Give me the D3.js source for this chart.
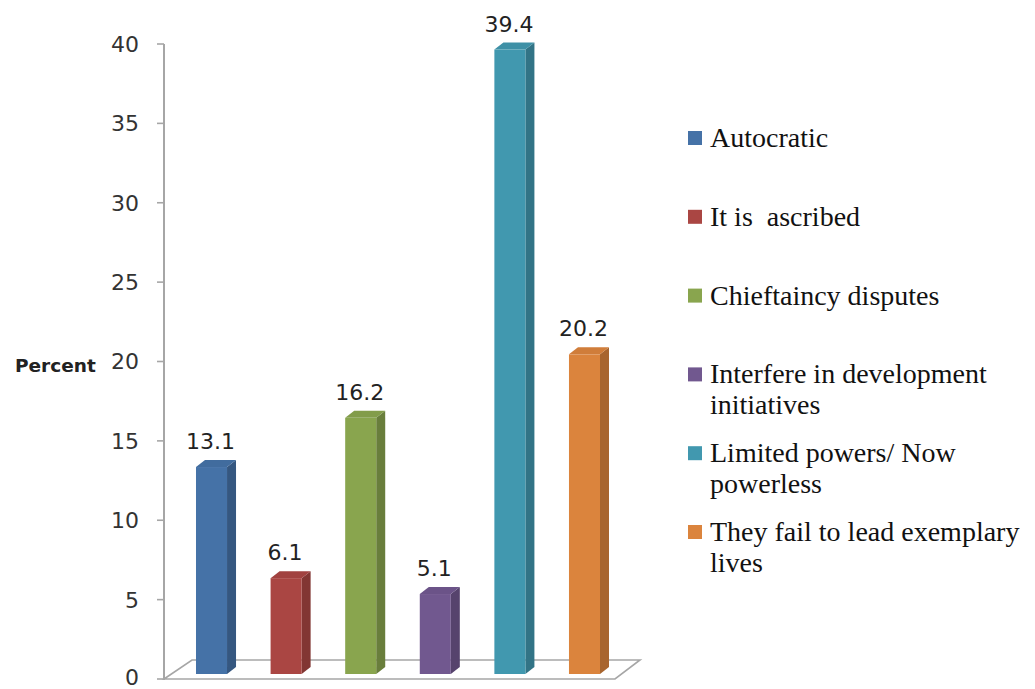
<!DOCTYPE html>
<html>
<head>
<meta charset="utf-8">
<script src="https://cdn.jsdelivr.net/npm/d3@7/dist/d3.min.js"></script>
<style>
  html, body { margin: 0; padding: 0; background: #fff; }
  svg { display: block; }
  .legend text { white-space: pre; }
</style>
</head>
<body>
<svg id="chart" width="1035" height="689"></svg>
<script>
// Reasons given, share of respondents (%)
const categories = [
  "Autocratic",
  "It is  ascribed",
  "Chieftaincy disputes",
  "Interfere in development initiatives",
  "Limited powers/ Now powerless",
  "They fail to lead exemplary lives"
];
const values = [13.1, 6.1, 16.2, 5.1, 39.4, 20.2];
const legendLines = [
  ["Autocratic"],
  ["It is  ascribed"],
  ["Chieftaincy disputes"],
  ["Interfere in development", "initiatives"],
  ["Limited powers/ Now", "powerless"],
  ["They fail to lead exemplary", "lives"]
];
const colors = ["#4572a7", "#aa4643", "#89a54e", "#71588f", "#4198af", "#db843d"];
const yTicks = [0, 5, 10, 15, 20, 25, 30, 35, 40];
const yTitle = "Percent";

const svg = d3.select("#chart");

const axisX = 164;
const y = d3.scaleLinear().domain([0, 40]).range([679, 44]);
const x = d3.scaleBand()
  .domain(categories)
  .range([158.7, 637.3])
  .paddingInner(0.584)
  .paddingOuter(0.5);

// 3D depth offsets
const dx = 9, dy = -7;
const floorDx = 28, floorDy = -19;
const floorRight = 615;
const barLift = 4;               // bars stand slightly behind the floor's front edge
const barBase = y(0) - 5;

const sansFont = "'DejaVu Sans', Verdana, sans-serif";
const serifFont = "'Liberation Serif', 'Times New Roman', serif";

// floor
const f0 = y(0);
svg.append("polygon")
  .attr("points", [
    [axisX, f0], [axisX + floorDx, f0 + floorDy],
    [floorRight + floorDx - 3, f0 + floorDy], [floorRight, f0]
  ].map(p => p.join(",")).join(" "))
  .attr("fill", "#fff")
  .attr("stroke", "#a6a6a6")
  .attr("stroke-width", 1.6);

// value axis
const axis = svg.append("g");
axis.append("line")
  .attr("x1", axisX).attr("x2", axisX)
  .attr("y1", y(40)).attr("y2", y(0) + 1)
  .attr("stroke", "#a6a6a6").attr("stroke-width", 2);
axis.selectAll("line.tick").data(yTicks).join("line")
  .attr("class", "tick")
  .attr("x1", axisX - 7).attr("x2", axisX)
  .attr("y1", d => y(d)).attr("y2", d => y(d))
  .attr("stroke", "#a6a6a6").attr("stroke-width", 1.6);
axis.selectAll("text").data(yTicks).join("text")
  .attr("x", 139)
  .attr("y", d => d === 0 ? y(d) - 2 : y(d))
  .attr("dy", "0.36em")
  .attr("text-anchor", "end")
  .attr("font-family", sansFont)
  .attr("font-size", 22)
  .attr("fill", "#333")
  .text(d => d);

svg.append("text")
  .attr("x", 15).attr("y", 372)
  .attr("font-family", sansFont)
  .attr("font-weight", "bold")
  .attr("font-size", 18.5)
  .attr("fill", "#222")
  .text(yTitle);

// bars
const bars = svg.selectAll("g.bar")
  .data(categories.map((c, i) => ({ c, v: values[i], col: colors[i] })))
  .join("g").attr("class", "bar");

bars.each(function(d) {
  const g = d3.select(this);
  const x0 = x(d.c), w = x.bandwidth();
  const top = y(d.v) - barLift;
  const base = d3.color(d.col);
  // side face
  g.append("polygon")
    .attr("points", [[x0 + w, top], [x0 + w + dx, top + dy], [x0 + w + dx, barBase + dy], [x0 + w, barBase]]
      .map(p => p.join(",")).join(" "))
    .attr("fill", base.darker(0.75));
  // top face
  g.append("polygon")
    .attr("points", [[x0, top], [x0 + dx, top + dy], [x0 + w + dx, top + dy], [x0 + w, top]]
      .map(p => p.join(",")).join(" "))
    .attr("fill", base.darker(0.15));
  // front face
  g.append("rect")
    .attr("x", x0).attr("y", top)
    .attr("width", w).attr("height", barBase - top)
    .attr("fill", base);
  // value label
  g.append("text")
    .attr("x", x0 + w / 2 - 1)
    .attr("y", top - 18)
    .attr("text-anchor", "middle")
    .attr("font-family", sansFont)
    .attr("font-size", 22)
    .attr("fill", "#222")
    .text(d.v.toFixed(1));
});

// legend
const legend = svg.append("g").attr("class", "legend");
const items = legend.selectAll("g").data(legendLines).join("g")
  .attr("transform", (d, i) => `translate(688, ${147 + i * 78.8})`);
items.append("rect")
  .attr("x", 0).attr("y", -16)
  .attr("width", 14).attr("height", 14)
  .attr("fill", (d, i) => colors[i]);
items.each(function(lines) {
  const t = d3.select(this).append("text")
    .attr("font-family", serifFont)
    .attr("font-size", 28)
    .attr("fill", "#111");
  lines.forEach((ln, j) => {
    t.append("tspan").attr("x", 22).attr("y", j * 31).text(ln);
  });
});
</script>
</body>
</html>
